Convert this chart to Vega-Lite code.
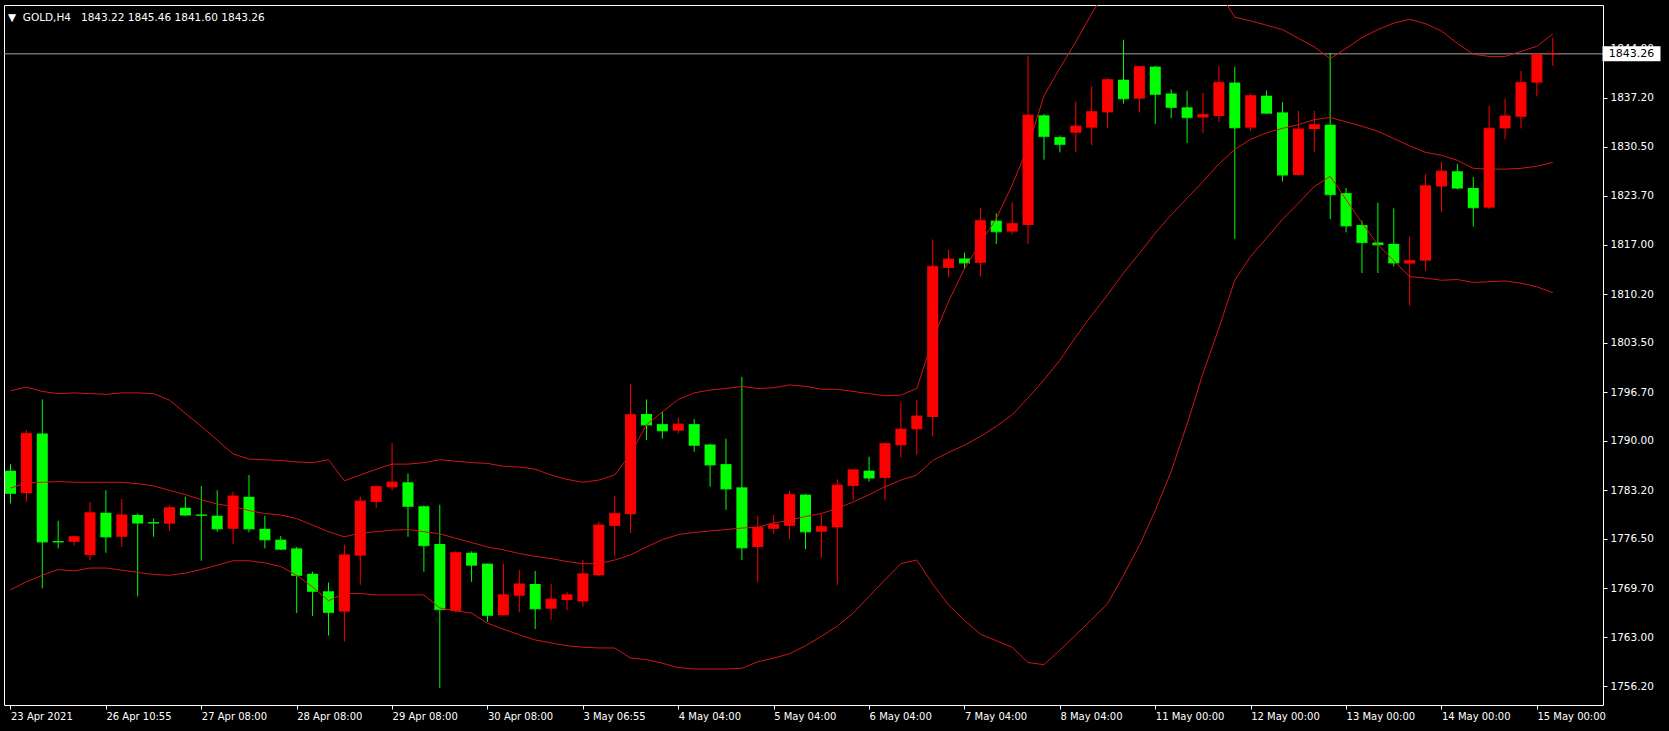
{
  "$schema": "https://vega.github.io/schema/vega-lite/v6.json",
  "width": 1599,
  "height": 700,
  "autosize": "none",
  "padding": {"left": 4, "top": 5, "right": 66, "bottom": 26},
  "background": "#000000",
  "config": {
    "view": {"stroke": "#FFFFFF", "strokeWidth": 1, "fill": "#000000"},
    "font": "DejaVu Sans",
    "axis": {"title": null, "domain": false, "grid": false, "ticks": true, "tickColor": "#FFFFFF", "tickSize": 4,
      "labelColor": "#FFFFFF", "labelFontSize": 10, "labelFont": "DejaVu Sans", "labelFlush": false, "labelOverlap": false, "labelBound": false},
    "axisX": {"labelAlign": "left", "labelPadding": 2},
    "axisY": {"labelPadding": 3, "labelFontSize": 10.5}
  },
  "title": {
    "text": "▼\u00a0\u00a0GOLD,H4\u00a0\u00a0\u00a01843.22 1845.46 1841.60 1843.26",
    "anchor": "start",
    "frame": "group",
    "orient": "top",
    "offset": -18,
    "dx": 4,
    "color": "#FFFFFF",
    "fontSize": 10.5,
    "fontWeight": "normal",
    "font": "DejaVu Sans"
  },
  "datasets": {
    "bars": [
      {"i":0,"o":1785.9,"h":1786.8,"l":1781.4,"c":1782.8,"bu":1796.9,"bm":1783.5,"bl":1769.5},
      {"i":1,"o":1782.8,"h":1791.5,"l":1781.6,"c":1791.0,"bu":1797.4,"bm":1784.2,"bl":1770.6},
      {"i":2,"o":1791.0,"h":1795.7,"l":1769.7,"c":1776.1,"bu":1796.8,"bm":1784.3,"bl":1771.5},
      {"i":3,"o":1776.2,"h":1779.0,"l":1775.2,"c":1776.1,"bu":1796.5,"bm":1784.4,"bl":1772.3},
      {"i":4,"o":1776.1,"h":1776.9,"l":1775.6,"c":1776.8,"bu":1796.6,"bm":1784.3,"bl":1772.1},
      {"i":5,"o":1774.3,"h":1781.6,"l":1773.6,"c":1780.1,"bu":1796.5,"bm":1784.3,"bl":1772.5},
      {"i":6,"o":1780.1,"h":1783.2,"l":1774.6,"c":1776.8,"bu":1796.4,"bm":1784.3,"bl":1772.5},
      {"i":7,"o":1776.8,"h":1782.0,"l":1775.4,"c":1779.8,"bu":1796.6,"bm":1784.3,"bl":1772.2},
      {"i":8,"o":1779.8,"h":1780.0,"l":1768.6,"c":1778.7,"bu":1796.6,"bm":1784.1,"bl":1771.9},
      {"i":9,"o":1778.8,"h":1779.3,"l":1776.8,"c":1778.7,"bu":1796.5,"bm":1783.8,"bl":1771.6},
      {"i":10,"o":1778.6,"h":1781.1,"l":1777.6,"c":1780.8,"bu":1795.6,"bm":1783.2,"bl":1771.5},
      {"i":11,"o":1780.8,"h":1782.3,"l":1779.7,"c":1779.8,"bu":1793.8,"bm":1782.6,"bl":1771.8},
      {"i":12,"o":1779.85,"h":1783.8,"l":1773.5,"c":1779.75,"bu":1792.0,"bm":1781.9,"bl":1772.3},
      {"i":13,"o":1779.7,"h":1783.2,"l":1777.5,"c":1777.9,"bu":1790.1,"bm":1781.3,"bl":1772.9},
      {"i":14,"o":1777.9,"h":1783.0,"l":1775.8,"c":1782.4,"bu":1788.2,"bm":1781.0,"bl":1773.5},
      {"i":15,"o":1782.3,"h":1785.3,"l":1777.4,"c":1777.9,"bu":1787.5,"bm":1780.4,"bl":1773.5},
      {"i":16,"o":1777.9,"h":1779.7,"l":1775.2,"c":1776.4,"bu":1787.4,"bm":1780.0,"bl":1773.2},
      {"i":17,"o":1776.4,"h":1776.9,"l":1775.0,"c":1775.1,"bu":1787.3,"bm":1779.8,"bl":1772.7},
      {"i":18,"o":1775.2,"h":1775.4,"l":1766.3,"c":1771.5,"bu":1787.1,"bm":1779.3,"bl":1771.5},
      {"i":19,"o":1771.7,"h":1772.0,"l":1765.9,"c":1769.3,"bu":1787.0,"bm":1778.4,"bl":1769.9},
      {"i":20,"o":1769.3,"h":1770.5,"l":1763.2,"c":1766.4,"bu":1787.4,"bm":1777.5,"bl":1768.0},
      {"i":21,"o":1766.5,"h":1775.7,"l":1762.4,"c":1774.3,"bu":1784.5,"bm":1776.8,"bl":1769.0},
      {"i":22,"o":1774.2,"h":1782.3,"l":1770.2,"c":1781.7,"bu":1785.3,"bm":1777.3,"bl":1769.0},
      {"i":23,"o":1781.6,"h":1783.8,"l":1780.8,"c":1783.7,"bu":1786.1,"bm":1777.5,"bl":1768.8},
      {"i":24,"o":1783.6,"h":1789.7,"l":1783.2,"c":1784.3,"bu":1786.8,"bm":1777.7,"bl":1768.8},
      {"i":25,"o":1784.3,"h":1785.5,"l":1776.8,"c":1781.0,"bu":1786.8,"bm":1777.8,"bl":1768.8},
      {"i":26,"o":1781.0,"h":1781.1,"l":1772.0,"c":1775.6,"bu":1787.0,"bm":1777.5,"bl":1768.8},
      {"i":27,"o":1775.8,"h":1781.2,"l":1756.0,"c":1766.8,"bu":1787.4,"bm":1777.2,"bl":1767.0},
      {"i":28,"o":1766.6,"h":1774.8,"l":1766.4,"c":1774.6,"bu":1787.2,"bm":1776.6,"bl":1766.6},
      {"i":29,"o":1774.6,"h":1774.8,"l":1770.6,"c":1772.9,"bu":1787.0,"bm":1776.0,"bl":1766.3},
      {"i":30,"o":1773.1,"h":1773.1,"l":1765.1,"c":1766.0,"bu":1786.9,"bm":1775.4,"bl":1764.9},
      {"i":31,"o":1766.0,"h":1773.1,"l":1766.0,"c":1768.8,"bu":1786.5,"bm":1775.0,"bl":1764.1},
      {"i":32,"o":1768.7,"h":1772.2,"l":1766.4,"c":1770.3,"bu":1786.4,"bm":1774.5,"bl":1763.3},
      {"i":33,"o":1770.3,"h":1772.1,"l":1764.1,"c":1766.9,"bu":1786.1,"bm":1774.1,"bl":1762.6},
      {"i":34,"o":1766.9,"h":1770.3,"l":1765.4,"c":1768.2,"bu":1785.3,"bm":1773.8,"bl":1762.2},
      {"i":35,"o":1768.1,"h":1769.2,"l":1766.7,"c":1768.8,"bu":1784.7,"bm":1773.4,"bl":1761.8},
      {"i":36,"o":1767.9,"h":1773.6,"l":1767.2,"c":1771.7,"bu":1784.3,"bm":1773.1,"bl":1761.6},
      {"i":37,"o":1771.5,"h":1778.9,"l":1771.4,"c":1778.4,"bu":1784.6,"bm":1773.1,"bl":1761.5},
      {"i":38,"o":1778.3,"h":1782.4,"l":1774.2,"c":1780.0,"bu":1785.3,"bm":1773.6,"bl":1761.5},
      {"i":39,"o":1779.9,"h":1797.8,"l":1777.3,"c":1793.6,"bu":1788.2,"bm":1774.3,"bl":1760.1},
      {"i":40,"o":1793.7,"h":1795.7,"l":1790.1,"c":1792.2,"bu":1792.2,"bm":1775.4,"bl":1759.9},
      {"i":41,"o":1792.3,"h":1794.0,"l":1790.3,"c":1791.4,"bu":1794.0,"bm":1776.4,"bl":1759.4},
      {"i":42,"o":1791.4,"h":1793.2,"l":1791.0,"c":1792.3,"bu":1795.7,"bm":1777.1,"bl":1758.8},
      {"i":43,"o":1792.3,"h":1793.0,"l":1788.5,"c":1789.4,"bu":1796.6,"bm":1777.4,"bl":1758.6},
      {"i":44,"o":1789.5,"h":1789.6,"l":1783.7,"c":1786.7,"bu":1797.0,"bm":1777.6,"bl":1758.6},
      {"i":45,"o":1786.8,"h":1790.3,"l":1780.5,"c":1783.4,"bu":1797.2,"bm":1777.8,"bl":1758.6},
      {"i":46,"o":1783.6,"h":1798.8,"l":1773.6,"c":1775.3,"bu":1797.5,"bm":1778.0,"bl":1758.7},
      {"i":47,"o":1775.4,"h":1779.7,"l":1770.6,"c":1778.1,"bu":1797.2,"bm":1778.1,"bl":1759.6},
      {"i":48,"o":1777.9,"h":1779.8,"l":1777.2,"c":1778.5,"bu":1797.3,"bm":1778.7,"bl":1760.1},
      {"i":49,"o":1778.3,"h":1783.1,"l":1776.5,"c":1782.6,"bu":1797.7,"bm":1779.1,"bl":1760.7},
      {"i":50,"o":1782.6,"h":1782.7,"l":1775.1,"c":1777.5,"bu":1797.5,"bm":1779.6,"bl":1761.8},
      {"i":51,"o":1777.5,"h":1779.9,"l":1773.9,"c":1778.2,"bu":1797.1,"bm":1780.0,"bl":1763.1},
      {"i":52,"o":1778.1,"h":1784.7,"l":1770.2,"c":1783.9,"bu":1797.1,"bm":1780.7,"bl":1764.5},
      {"i":53,"o":1783.8,"h":1786.1,"l":1781.9,"c":1786.0,"bu":1796.8,"bm":1781.6,"bl":1766.3},
      {"i":54,"o":1785.9,"h":1787.8,"l":1784.4,"c":1784.9,"bu":1796.5,"bm":1782.6,"bl":1768.6},
      {"i":55,"o":1784.9,"h":1789.8,"l":1781.8,"c":1789.6,"bu":1796.2,"bm":1783.7,"bl":1770.9},
      {"i":56,"o":1789.4,"h":1795.3,"l":1787.7,"c":1791.6,"bu":1796.3,"bm":1784.6,"bl":1773.1},
      {"i":57,"o":1791.6,"h":1795.6,"l":1788.1,"c":1793.4,"bu":1797.2,"bm":1785.3,"bl":1773.6},
      {"i":58,"o":1793.3,"h":1817.7,"l":1790.6,"c":1814.0,"bu":1803.9,"bm":1787.3,"bl":1770.3},
      {"i":59,"o":1813.8,"h":1816.3,"l":1812.5,"c":1815.0,"bu":1809.2,"bm":1788.4,"bl":1767.4},
      {"i":60,"o":1815.1,"h":1815.9,"l":1813.7,"c":1814.5,"bu":1813.7,"bm":1789.4,"bl":1765.3},
      {"i":61,"o":1814.5,"h":1822.0,"l":1812.6,"c":1820.3,"bu":1817.2,"bm":1790.6,"bl":1763.4},
      {"i":62,"o":1820.3,"h":1821.3,"l":1817.1,"c":1818.8,"bu":1820.6,"bm":1792.0,"bl":1762.5},
      {"i":63,"o":1818.8,"h":1822.8,"l":1818.4,"c":1819.9,"bu":1825.2,"bm":1793.6,"bl":1761.6},
      {"i":64,"o":1819.7,"h":1843.0,"l":1817.1,"c":1834.8,"bu":1830.5,"bm":1795.9,"bl":1759.5},
      {"i":65,"o":1834.8,"h":1835.0,"l":1828.7,"c":1831.9,"bu":1837.5,"bm":1798.4,"bl":1759.2},
      {"i":66,"o":1831.8,"h":1832.0,"l":1829.7,"c":1830.8,"bu":1841.3,"bm":1801.1,"bl":1761.2},
      {"i":67,"o":1832.4,"h":1836.7,"l":1829.7,"c":1833.3,"bu":1844.9,"bm":1804.3,"bl":1763.3},
      {"i":68,"o":1833.1,"h":1838.8,"l":1830.7,"c":1835.3,"bu":1848.8,"bm":1807.3,"bl":1765.4},
      {"i":69,"o":1835.2,"h":1839.9,"l":1833.1,"c":1839.7,"bu":1852.3,"bm":1810.1,"bl":1767.6},
      {"i":70,"o":1839.7,"h":1845.2,"l":1836.4,"c":1837.1,"bu":1855.0,"bm":1813.1,"bl":1771.5},
      {"i":71,"o":1837.1,"h":1841.6,"l":1835.2,"c":1841.5,"bu":1857.0,"bm":1815.8,"bl":1775.6},
      {"i":72,"o":1841.5,"h":1841.6,"l":1833.6,"c":1837.7,"bu":1858.0,"bm":1818.6,"bl":1780.4},
      {"i":73,"o":1837.8,"h":1838.4,"l":1834.4,"c":1835.9,"bu":1857.8,"bm":1821.1,"bl":1785.8},
      {"i":74,"o":1835.9,"h":1838.2,"l":1831.0,"c":1834.5,"bu":1856.5,"bm":1823.4,"bl":1792.3},
      {"i":75,"o":1834.5,"h":1837.9,"l":1832.4,"c":1834.9,"bu":1854.5,"bm":1825.7,"bl":1799.3},
      {"i":76,"o":1834.7,"h":1841.6,"l":1833.9,"c":1839.3,"bu":1851.8,"bm":1828.1,"bl":1805.5},
      {"i":77,"o":1839.3,"h":1841.5,"l":1817.8,"c":1833.1,"bu":1848.3,"bm":1830.1,"bl":1812.1},
      {"i":78,"o":1833.1,"h":1837.8,"l":1832.6,"c":1837.5,"bu":1847.8,"bm":1831.5,"bl":1815.4},
      {"i":79,"o":1837.5,"h":1838.2,"l":1835.0,"c":1835.1,"bu":1847.2,"bm":1832.4,"bl":1817.9},
      {"i":80,"o":1835.2,"h":1836.6,"l":1825.7,"c":1826.6,"bu":1846.6,"bm":1833.0,"bl":1820.5},
      {"i":81,"o":1826.6,"h":1835.4,"l":1826.5,"c":1832.9,"bu":1845.4,"bm":1833.5,"bl":1822.7},
      {"i":82,"o":1832.9,"h":1835.4,"l":1829.8,"c":1833.5,"bu":1844.2,"bm":1834.2,"bl":1825.0},
      {"i":83,"o":1833.5,"h":1843.4,"l":1820.5,"c":1823.9,"bu":1842.6,"bm":1834.5,"bl":1826.4},
      {"i":84,"o":1824.1,"h":1824.8,"l":1818.7,"c":1819.6,"bu":1844.0,"bm":1833.9,"bl":1823.2},
      {"i":85,"o":1819.7,"h":1820.3,"l":1813.1,"c":1817.3,"bu":1845.5,"bm":1833.3,"bl":1820.0},
      {"i":86,"o":1817.3,"h":1822.8,"l":1813.1,"c":1817.0,"bu":1846.6,"bm":1832.6,"bl":1817.0},
      {"i":87,"o":1817.1,"h":1822.0,"l":1814.0,"c":1814.5,"bu":1847.5,"bm":1831.6,"bl":1814.8},
      {"i":88,"o":1814.4,"h":1818.1,"l":1808.6,"c":1814.8,"bu":1848.0,"bm":1830.6,"bl":1812.6},
      {"i":89,"o":1814.8,"h":1826.7,"l":1813.4,"c":1825.1,"bu":1847.4,"bm":1829.7,"bl":1812.4},
      {"i":90,"o":1825.0,"h":1828.4,"l":1821.5,"c":1827.1,"bu":1846.4,"bm":1829.3,"bl":1812.1},
      {"i":91,"o":1827.1,"h":1828.1,"l":1824.6,"c":1824.8,"bu":1844.7,"bm":1828.6,"bl":1812.2},
      {"i":92,"o":1824.8,"h":1826.3,"l":1819.5,"c":1822.1,"bu":1843.2,"bm":1827.5,"bl":1811.8},
      {"i":93,"o":1822.1,"h":1836.1,"l":1821.9,"c":1833.0,"bu":1842.9,"bm":1827.4,"bl":1811.9},
      {"i":94,"o":1833.0,"h":1837.1,"l":1831.5,"c":1834.7,"bu":1842.9,"bm":1827.4,"bl":1812.0},
      {"i":95,"o":1834.6,"h":1840.9,"l":1833.0,"c":1839.3,"bu":1843.6,"bm":1827.5,"bl":1811.7},
      {"i":96,"o":1839.3,"h":1843.3,"l":1837.4,"c":1843.2,"bu":1844.3,"bm":1827.8,"bl":1811.2},
      {"i":97,"o":1843.22,"h":1845.46,"l":1841.6,"c":1843.26,"bu":1846.0,"bm":1828.3,"bl":1810.4}
    ],
    "last": [{"price": 1843.26, "label": "1843.26"}]
  },
  "layer": [
    {
      "data": {"name": "bars"},
      "mark": {"type": "rule", "strokeWidth": 1, "clip": true},
      "encoding": {
        "x": {"field": "i", "type": "quantitative", "scale": {"domain": [-0.09375, 99.84375], "nice": false, "zero": false},
          "axis": {"orient": "bottom", "values": [0, 6, 12, 18, 24, 30, 36, 42, 48, 54, 60, 66, 72, 78, 84, 90, 96],
            "labelExpr": "['23 Apr 2021','26 Apr 10:55','27 Apr 08:00','28 Apr 08:00','29 Apr 08:00','30 Apr 08:00','3 May 06:55','4 May 04:00','5 May 04:00','6 May 04:00','7 May 04:00','8 May 04:00','11 May 00:00','12 May 00:00','13 May 00:00','14 May 00:00','15 May 00:00'][round(datum.value / 6)]"}},
        "y": {"field": "l", "type": "quantitative", "scale": {"domain": [1753.65, 1849.98], "nice": false, "zero": false},
          "axis": {"orient": "right", "values": [1756.2, 1763.0, 1769.7, 1776.5, 1783.2, 1790.0, 1796.7, 1803.5, 1810.2, 1817.0, 1823.7, 1830.5, 1837.2, 1844.0], "format": ".2f"}},
        "y2": {"field": "h"},
        "color": {"condition": {"test": "datum.c >= datum.o", "value": "#FF0000"}, "value": "#00FF00"}
      }
    },
    {
      "data": {"name": "last"},
      "mark": {"type": "rule", "color": "#A0A0A0", "strokeWidth": 1},
      "encoding": {
        "y": {"field": "price", "type": "quantitative", "scale": {"domain": [1753.65, 1849.98], "nice": false, "zero": false}}
      }
    },
    {
      "data": {"name": "bars"},
      "mark": {"type": "bar", "orient": "vertical", "size": 11, "clip": true},
      "encoding": {
        "x": {"field": "i", "type": "quantitative", "scale": {"domain": [-0.09375, 99.84375], "nice": false, "zero": false}},
        "y": {"field": "o", "type": "quantitative", "scale": {"domain": [1753.65, 1849.98], "nice": false, "zero": false}},
        "y2": {"field": "c"},
        "color": {"condition": {"test": "datum.c >= datum.o", "value": "#FF0000"}, "value": "#00FF00"}
      }
    },
    {
      "data": {"name": "bars"},
      "mark": {"type": "tick", "orient": "horizontal", "size": 11, "thickness": 1.5, "clip": true},
      "encoding": {
        "x": {"field": "i", "type": "quantitative", "scale": {"domain": [-0.09375, 99.84375], "nice": false, "zero": false}},
        "y": {"field": "c", "type": "quantitative", "scale": {"domain": [1753.65, 1849.98], "nice": false, "zero": false}},
        "color": {"condition": {"test": "datum.c >= datum.o", "value": "#FF0000"}, "value": "#00FF00"}
      }
    },
    {
      "data": {"name": "bars"},
      "mark": {"type": "line", "color": "#D41414", "strokeWidth": 1, "clip": true},
      "encoding": {
        "x": {"field": "i", "type": "quantitative", "scale": {"domain": [-0.09375, 99.84375], "nice": false, "zero": false}},
        "y": {"field": "bu", "type": "quantitative", "scale": {"domain": [1753.65, 1849.98], "nice": false, "zero": false}}
      }
    },
    {
      "data": {"name": "bars"},
      "mark": {"type": "line", "color": "#D41414", "strokeWidth": 1, "clip": true},
      "encoding": {
        "x": {"field": "i", "type": "quantitative", "scale": {"domain": [-0.09375, 99.84375], "nice": false, "zero": false}},
        "y": {"field": "bm", "type": "quantitative", "scale": {"domain": [1753.65, 1849.98], "nice": false, "zero": false}}
      }
    },
    {
      "data": {"name": "bars"},
      "mark": {"type": "line", "color": "#D41414", "strokeWidth": 1, "clip": true},
      "encoding": {
        "x": {"field": "i", "type": "quantitative", "scale": {"domain": [-0.09375, 99.84375], "nice": false, "zero": false}},
        "y": {"field": "bl", "type": "quantitative", "scale": {"domain": [1753.65, 1849.98], "nice": false, "zero": false}}
      }
    },
    {
      "data": {"name": "last"},
      "mark": {"type": "point", "shape": "M-1,-0.26H1V0.26H-1Z", "size": 3364, "filled": true, "color": "#FFFFFF", "opacity": 1},
      "encoding": {
        "x": {"datum": 101.95, "type": "quantitative", "scale": {"domain": [-0.09375, 99.84375], "nice": false, "zero": false}},
        "y": {"field": "price", "type": "quantitative", "scale": {"domain": [1753.65, 1849.98], "nice": false, "zero": false}}
      }
    },
    {
      "data": {"name": "last"},
      "mark": {"type": "text", "color": "#000000", "fontSize": 11, "font": "DejaVu Sans", "align": "center", "baseline": "middle"},
      "encoding": {
        "x": {"datum": 101.95, "type": "quantitative", "scale": {"domain": [-0.09375, 99.84375], "nice": false, "zero": false}},
        "y": {"field": "price", "type": "quantitative", "scale": {"domain": [1753.65, 1849.98], "nice": false, "zero": false}},
        "text": {"field": "label"}
      }
    }
  ]
}
